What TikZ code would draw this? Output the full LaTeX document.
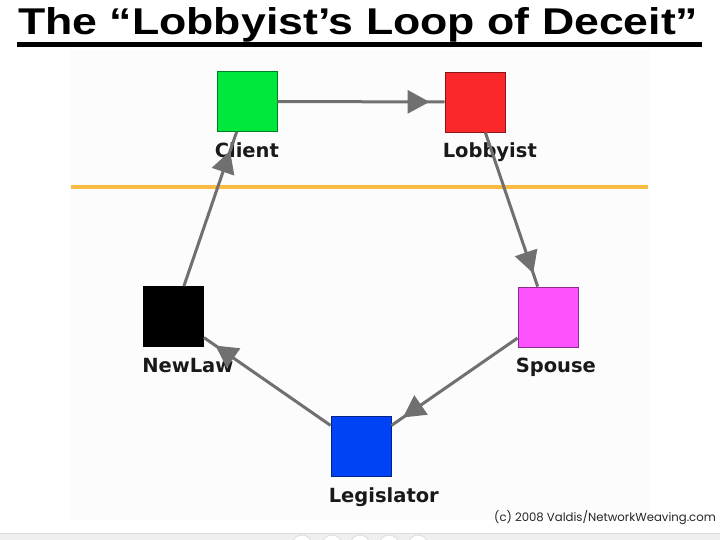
\documentclass[tikz,border=0pt]{standalone}
\usepackage{fontspec}
\setmainfont{Liberation Sans}
\newfontfamily\labelfont{DejaVu Sans}
\newfontfamily\copyfont{Poppins}
\usetikzlibrary{arrows.meta,decorations.markings}
\definecolor{cgreen}{RGB}{0,232,60}
\definecolor{cred}{RGB}{250,40,42}
\definecolor{cmag}{RGB}{255,82,255}
\definecolor{cblue}{RGB}{0,66,245}
\definecolor{edgegray}{RGB}{112,112,112}
\definecolor{orangeline}{RGB}{248,188,66}
\definecolor{panel}{RGB}{252,252,252}
\definecolor{strip}{RGB}{239,239,239}
\definecolor{stripline}{RGB}{220,220,220}
\tikzset{
  sq/.style={rectangle, minimum width=60pt, minimum height=60pt, inner sep=0pt, line width=0.9pt},
  lbl/.style={anchor=base west, inner sep=0pt, font=\labelfont\bfseries\fontsize{19.5}{20}\selectfont, text=black!90},
  edge/.style={draw=edgegray, line width=3pt},
  headat/.style={postaction={decorate}, decoration={markings, mark=at position -#1 with {\arrow[edgegray]{Triangle[length=22pt,width=23pt]}}}}
}
\begin{document}
\begin{tikzpicture}[x=1pt,y=-1pt]
\useasboundingbox (0,0) rectangle (720,540);
\clip (0,0) rectangle (720,540);
\fill[white] (0,0) rectangle (720,540);
\fill[panel] (70,50) rectangle (650,520);
% bottom strip
\fill[strip] (0,533) rectangle (720,540);
\draw[stripline, line width=0.8pt] (0,533) -- (720,533);
\foreach \cx in {302,332,360,389,418} {\draw[stripline, fill=white, line width=0.8pt] (\cx,545) circle (10);}
% title
\node[anchor=base west, inner sep=0pt] (title) at (18,35) {\resizebox{680pt}{27pt}{\fontsize{40}{40}\selectfont\bfseries The “Lobbyist’s Loop of Deceit”}};
\fill[black] (17,42.5) rectangle (702,47);
% orange separator
\draw[orangeline, line width=4pt] (71,187) -- (648,187);
% nodes
\node[sq, fill=cgreen, draw=cgreen!55!black] (client) at (247,101.5) {};
\node[sq, fill=cred, draw=cred!55!black] (lobbyist) at (475,102) {};
\node[sq, fill=cmag, draw=cmag!55!black] (spouse) at (548,317) {};
\node[sq, fill=black, draw=black] (newlaw) at (173.5,316.5) {};
\node[sq, fill=cblue, draw=cblue!55!black] (legislator) at (361,446.5) {};
% labels
\node[lbl] (clientlbl) at ([shift={(-2,25.5)}]client.south west) {Client};
\node[lbl] (lobbyistlbl) at ([shift={(-2,25.5)}]lobbyist.south west) {Lobbyist};
\node[lbl] (spouselbl) at ([shift={(-2,25.5)}]spouse.south west) {Spouse};
\node[lbl] (newlawlbl) at ([shift={(-1,25.5)}]newlaw.south west) {NewLaw};
\node[lbl] (legislatorlbl) at ([shift={(-2,25.5)}]legislator.south west) {Legislator};
% edges
\draw[edge, headat=15pt] (client) -- (lobbyist);
\draw[edge, headat=14pt] (lobbyist) -- (spouse);
\draw[edge, headat=14pt] (spouse) -- (legislator);
\draw[edge, headat=14pt] (legislator) -- (newlaw);
\draw[edge, headat=20pt] (newlaw) -- (client);
% copyright
\node[anchor=base west, inner sep=0pt, text=black!85] (copy) at (494,521) {\copyfont\fontsize{11.7}{13}\selectfont (c) 2008 Valdis/NetworkWeaving.com};
\end{tikzpicture}
\end{document}
